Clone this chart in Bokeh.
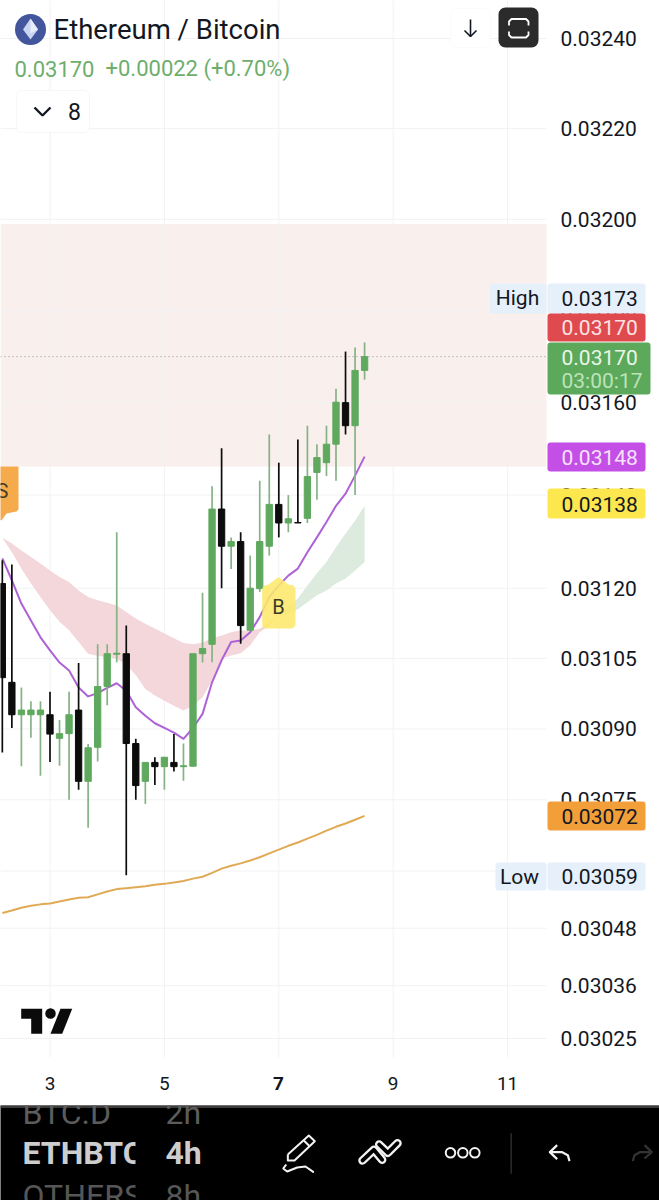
from math import exp
from bokeh.plotting import figure
from bokeh.layouts import column
from bokeh.embed import file_html
from bokeh.resources import INLINE
from bokeh.core.properties import value
from bokeh.models import Range1d, FixedTicker, PrintfTickFormatter, Label, BoxAnnotation

# ---- data (prices x 1e-6 BTC), 4h bars, first bar index -5 relative to day 3 ----
first_bar = -5
opens = [31210, 30999, 30930, 30930, 30930, 30930, 30880, 30890, 30940, 30789, 30861, 30990, 31059, 31060,
         30869, 30789, 30829, 30820, 30829, 30820, 30821, 31060, 31080, 31370, 31290, 31300, 31110, 31199,
         31290, 31380, 31340, 31341, 31350, 31449, 31470, 31510, 31600, 31550, 31670]
closes = [31009, 30930, 30940, 30940, 30940, 30889, 30890, 30930, 30789, 30860, 30990, 31060, 31061, 30869,
          30780, 30829, 30820, 30840, 30820, 30822, 31060, 31071, 31370, 31290, 31300, 31120, 31200, 31300,
          31380, 31340, 31349, 31340, 31440, 31481, 31510, 31601, 31550, 31670, 31700]
highs = [31260, 31251, 30988, 30959, 30959, 30979, 30919, 30979, 31040, 30868, 31080, 31080, 31320, 31120,
         30879, 30829, 30840, 30840, 30889, 30869, 31060, 31190, 31419, 31501, 31309, 31320, 31270, 31431,
         31531, 31470, 31400, 31520, 31550, 31510, 31550, 31630, 31711, 31720, 31731]
lows = [30850, 30902, 30821, 30881, 30801, 30830, 30822, 30750, 30771, 30691, 30831, 30950, 31042, 30591,
        30750, 30741, 30781, 30771, 30810, 30790, 30821, 31041, 31042, 31200, 31241, 31081, 31110, 31192,
        31270, 31309, 31320, 31340, 31340, 31390, 31441, 31431, 31531, 31400, 31650]
ma_purple = [31264, 31217, 31167, 31131, 31095, 31067, 31041, 31024, 30988, 30969, 30976, 30987, 30997, 30981,
             30946, 30928, 30912, 30902, 30892, 30879, 30902, 30932, 30999, 31046, 31085, 31088, 31106, 31138,
             31181, 31206, 31227, 31242, 31277, 31309, 31342, 31377, 31403, 31442, 31483]
ma_orange = [30512, 30517, 30523, 30527, 30530, 30532, 30536, 30540, 30544, 30545, 30551, 30557, 30562, 30564,
             30566, 30568, 30571, 30573, 30576, 30579, 30584, 30588, 30596, 30605, 30611, 30616, 30622, 30629,
             30637, 30645, 30653, 30660, 30668, 30676, 30685, 30693, 30700, 30708, 30716]
red_upper = [31308, 31296, 31281, 31267, 31253, 31238, 31224, 31213, 31195, 31181, 31174, 31169, 31163, 31149,
             31135, 31124, 31114, 31103, 31093, 31083, 31080, 31084, 31093, 31099, 31106, 31110, 31108, 31114,
             31127, 31142]
red_lower = [31308, 31277, 31242, 31210, 31181, 31153, 31128, 31110, 31085, 31060, 31055, 31053, 31049, 31037,
             31014, 30985, 30971, 30960, 30949, 30939, 30949, 30967, 31003, 31050, 31056, 31061, 31078, 31106,
             31120, 31142]
green_upper = [31142, 31159, 31178, 31206, 31232, 31256, 31288, 31317, 31345, 31377]
green_lower = [31142, 31146, 31155, 31170, 31185, 31195, 31210, 31221, 31238, 31256]
zone_top, zone_bottom = 31990, 31462
last_price = 31700
y_ticks = [0.0324, 0.0322, 0.032, 0.0318, 0.0316, 0.0314, 0.0312, 0.03105, 0.0309, 0.03075, 0.0306, 0.03048, 0.03036, 0.03025]
x_ticks = [3, 5, 7, 9, 11]

FONT = "Roboto"

def dx(px):
    return 3 + (px - 49.5) / 57.2

def dy(py):
    return 0.0324 * exp(-(py - 38) / 14565)

def price(vals):
    return [v / 1e6 for v in vals]

n = len(opens)
days = [3 + (first_bar + k) / 6 for k in range(n)]

p = figure(width=659, height=1105, y_axis_type="log", y_axis_location="right",
           x_range=Range1d(dx(0), dx(659)), y_range=Range1d(dy(1105), dy(0)),
           toolbar_location=None, output_backend="svg",
           min_border_left=0, min_border_top=0, min_border_right=0, min_border_bottom=0)
p.outline_line_color = None
p.border_fill_color = "white"
p.grid.visible = False

ya = p.yaxis[0]
ya.ticker = FixedTicker(ticks=y_ticks)
ya.formatter = PrintfTickFormatter(format="%.5f")
ya.axis_line_color = None
ya.major_tick_line_color = None
ya.minor_tick_line_color = None
ya.major_label_standoff = -105
ya.major_label_text_font = FONT
ya.major_label_text_font_size = "21px"
ya.major_label_text_color = "#131722"

xa = p.xaxis[0]
xa.ticker = FixedTicker(ticks=x_ticks)
xa.major_label_overrides = {7: ""}
xa.axis_line_color = None
xa.major_tick_line_color = None
xa.minor_tick_line_color = None
xa.major_label_standoff = -35
xa.major_label_text_font = FONT
xa.major_label_text_font_size = "19px"
xa.major_label_text_color = "#131722"

# resistance zone and grid (grid stops at the price scale)
p.quad(left=[dx(0)], right=[dx(546)], top=[zone_top / 1e6], bottom=[zone_bottom / 1e6], fill_color="#f9efed", line_color=None)
GRID = "#f1f2f4"
p.segment([dx(0)] * len(y_ticks), y_ticks, [dx(546)] * len(y_ticks), y_ticks, line_color=GRID, line_width=1)
p.segment(x_ticks, [dy(0)] * len(x_ticks), x_ticks, [dy(1057)] * len(x_ticks), line_color=GRID, line_width=1)
p.segment([dx(0)], [last_price / 1e6], [dx(546)], [last_price / 1e6], line_color="#8c9a8c", line_width=1, line_dash="1 3")

# ribbons and averages
red_days = days[:len(red_upper)]
green_days = days[-len(green_upper):]
p.varea(red_days, price(red_upper), price(red_lower), fill_color="#f3d7db")
p.varea(green_days, price(green_upper), price(green_lower), fill_color="#dcebdd")
p.line(days, price(ma_orange), line_color="#e0aa55", line_width=2)
p.line(days, price(ma_purple), line_color="#ad62d6", line_width=2, line_join="round")

# candles
GREEN, GREEN_WICK, BLACK = "#5fa95e", "#86b286", "#0c0c0c"
up = [c >= o for o, c in zip(opens, closes)]
body = [GREEN if u else BLACK for u in up]
wick = [GREEN_WICK if u else BLACK for u in up]
p.segment(days, price(highs), days, price(lows), line_color=wick, line_width=1.7)
p.vbar(days, top=price(closes), bottom=price(opens), width=6.3 / 57.2, fill_color=body, line_color=body, line_width=1)

# signal flags
p.patch([dx(v) for v in (-12, 18, 18, 16, 6, 1, -12)], [dy(v) for v in (466, 466, 509, 511, 513, 520, 513)],
        fill_color="#f5aa4c", line_color=None)
p.text([dx(2)], [dy(490)], text=["S"], text_font=value(FONT), text_font_size="20px", text_align="center",
       text_baseline="middle", text_color="#4a3a20")
p.patch([dx(v) for v in (278, 288, 293, 295, 295, 292, 264, 261.7, 261.7, 264, 268)],
        [dy(v) for v in (576.5, 584, 585, 588, 625, 628, 628, 625, 588, 585, 584)],
        fill_color="#fde86b", fill_alpha=0.88, line_color=None)
p.text([dx(278)], [dy(606)], text=["B"], text_font=value(FONT), text_font_size="20px", text_align="center",
       text_baseline="middle", text_color="#3a3a2a")

# TradingView mark
p.patch([dx(v) for v in (20.7, 41.7, 41.7, 30.7, 30.7, 20.7)], [dy(v) for v in (1008.3, 1008.3, 1033.3, 1033.3, 1018.3, 1018.3)],
        fill_color="#0b0b0b", line_color=None)
p.patch([dx(v) for v in (60, 71.7, 61.7, 50)], [dy(v) for v in (1008.3, 1008.3, 1033.3, 1033.3)],
        fill_color="#0b0b0b", line_color=None)
p.scatter([dx(50)], [dy(1013)], size=10.5, marker="circle", fill_color="#0b0b0b", line_color=None)

# header: coin logo, title, values
p.scatter([dx(30)], [dy(29)], size=31, marker="circle", fill_color="#43559c", line_color=None)
p.patch([dx(v) for v in (30, 37.5, 30, 22.5)], [dy(v) for v in (18, 29, 39, 29)], fill_color="#c9d3f2", line_color=None)
p.patch([dx(v) for v in (30, 37.5, 30)], [dy(v) for v in (18, 29, 33)], fill_color="#e8edfb", line_color=None)

def label(text, px, py, size, color="#131722", align="left", style="normal"):
    p.add_layout(Label(x=dx(px), y=dy(py), text=text, text_font=FONT, text_font_size=f"{size}px", text_color=color,
                       text_align=align, text_baseline="middle", text_font_style=style, level="overlay"))

def box(l, r, t, b, fill, line=None, radius=3):
    p.add_layout(BoxAnnotation(left=dx(l), right=dx(r), top=dy(t), bottom=dy(b), fill_color=fill, fill_alpha=1,
                               line_color=line, border_radius=radius, level="annotation"))

label("Ethereum / Bitcoin", 53, 28.5, 27.5, "#131722")
label("0.03170", 14, 68, 22, "#6eae6c")
label("+0.00022 (+0.70%)", 105, 68, 22, "#6eae6c")
box(16, 89, 90, 132, "white", "#e3e3e3", 5)
p.line([dx(v) for v in (34, 42, 50)], [dy(v) for v in (107, 115, 107)], line_color="#131722", line_width=2.4, level="overlay")
label("8", 74, 111, 23, align="center")

# top buttons
box(450, 490, 8, 47, "white", "#f1f1f1", 6)
p.line([dx(470), dx(470)], [dy(19), dy(36)], line_color="#131722", line_width=1.6, level="overlay")
p.line([dx(v) for v in (464, 470, 476)], [dy(v) for v in (30, 36, 30)], line_color="#131722", line_width=1.6, level="overlay")
box(498, 538, 7, 47, "#2b2b2b", None, 7)
p.multi_line([[dx(v) for v in (508.5, 508.5, 511, 525.5, 528, 528)], [dx(v) for v in (508.5, 508.5, 511, 525.5, 528, 528)]],
             [[dy(v) for v in (25, 21, 18.5, 18.5, 21, 25)], [dy(v) for v in (31, 34.5, 37, 37, 34.5, 31)]],
             line_color="white", line_width=1.8, level="overlay")

# price tags over the axis
LIGHT = "#e6f0fb"
box(489, 546, 283, 313, LIGHT)
label("High", 517, 297, 21, align="center")
box(547, 645, 283, 313, LIGHT)
label("0.03173", 561, 297.5, 21)
box(547, 645, 313, 341, "#df4a4f")
label("0.03170", 561, 327, 21, "#fbe3e3")
box(547, 650, 342, 394, "#5ca95b")
label("0.03170", 561, 357, 21, "#eaf6e8")
label("03:00:17", 561, 380, 21, "#bde3b9")
box(547, 645, 442, 471, "#c44fe6")
label("0.03148", 561, 457, 21, "#f6e3fb")
box(547, 645, 488, 518, "#fde74f")
label("0.03138", 561, 503.5, 21, "#131722")
box(547, 645, 801, 830, "#f29f3a")
label("0.03072", 561, 816, 21, "#131722")
box(495, 546, 862, 890, LIGHT)
label("Low", 519, 876, 21, align="center")
box(547, 645, 862, 890, LIGHT)
label("0.03059", 561, 876, 21)
label("7", 278, 1083, 19, "#131722", "center", "bold")

# bottom app bar (plotted in page pixels)
b = figure(width=659, height=95, x_range=Range1d(0, 659), y_range=Range1d(1200, 1105),
           toolbar_location=None, output_backend="svg", x_axis_type=None, y_axis_type=None,
           min_border=0, background_fill_color="#000000", border_fill_color="#000000")
b.outline_line_color = None
b.grid.visible = False
b.quad(left=[0], right=[659], top=[1105], bottom=[1107.5], fill_color="#3c3c3c", line_color=None)

def bt(text, x, center, color, size=32, style="bold"):
    b.text([x], [center], text=[text], text_font=value(FONT), text_font_size=f"{size}px", text_color=color,
           text_baseline="middle", text_font_style=style)

bt("BTC.D", 22, 1112, "#5c5c5c", style="normal")
bt("ETHBTC", 22, 1152, "#cdcdcd")
bt("OTHERS", 22, 1195, "#565656", style="normal")
b.quad(left=[135], right=[164], top=[1108], bottom=[1200], fill_color="#000000", line_color=None)
bt("2h", 165, 1112, "#5c5c5c", style="normal")
bt("4h", 165, 1152, "#cdcdcd")
bt("8h", 165, 1195, "#565656", style="normal")

def pts(*xy):
    return [270 + q[0] / 3 for q in xy], [1120 + q[1] / 3 for q in xy]

W = "#f2f2f2"
# pen
b.line(*pts((52, 102), (115, 45), (133, 62), (72, 120), (52, 120), (52, 102)), line_color=W, line_width=2, line_join="round")
b.line(*pts((100, 60), (118, 78)), line_color=W, line_width=2)
b.line(*pts((46, 134), (38, 144), (50, 153), (80, 141), (105, 138), (128, 154)), line_color=W, line_width=2, line_cap="round")
# trend tools
for outer, col in ((8.5, W), (3.8, "#000000")):
    b.line(*pts((276, 120), (310, 88), (335, 118)), line_color=col, line_width=outer, line_cap="round", line_join="round")
    b.line(*pts((326, 72), (352, 97), (381, 68)), line_color=col, line_width=outer, line_cap="round", line_join="round")
# more
bx, by = pts((540, 97), (577, 97), (613, 97))
b.scatter(bx, by, size=9.5, marker="circle", fill_color="#000000", line_color=W, line_width=2)
# divider, undo, redo
b.line(*pts((722, 38), (722, 160)), line_color="#2b2b2b", line_width=1.5)
b.line(*pts((860, 74), (838, 95), (860, 116)), line_color=W, line_width=2.2, line_join="round")
b.line(*pts((838, 95), (875, 95), (892, 104), (897, 122)), line_color=W, line_width=2.2)
b.line(*pts((1122, 74), (1144, 95), (1122, 114)), line_color="#333333", line_width=2.2)
b.line(*pts((1144, 95), (1108, 95), (1092, 104), (1087, 122)), line_color="#333333", line_width=2.2)

page = column(p, b, spacing=0)
open("out.html", "w").write(file_html(page, INLINE))
